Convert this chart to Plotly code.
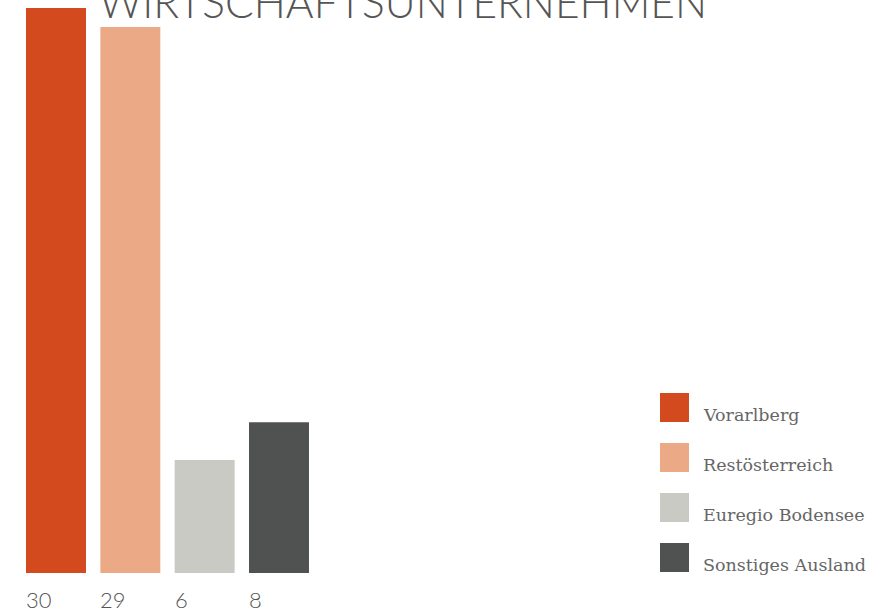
import plotly.graph_objects as go

categories = ["Vorarlberg", "Restösterreich", "Euregio Bodensee", "Sonstiges Ausland"]
values = [30, 29, 6, 8]
colors = ["#D24A1E", "#EBA986", "#C9CAC4", "#505251"]
title_text = "WIRTSCHAFTSUNTERNEHMEN"

W, H = 869, 613
bar_w = 0.807
xs = list(range(len(categories)))

fig = go.Figure()
fig.add_trace(go.Bar(x=xs, y=values, marker_color=colors, width=bar_w,
                     marker_line_width=0, showlegend=False, hoverinfo="skip"))

def px(x):
    return x / W

def py(y):
    return 1 - y / H

annotations = []
shapes = []
# value labels under bars
for i, v in enumerate(values):
    annotations.append(dict(x=i - bar_w / 2, y=0, xref="x", yref="y", text=str(v),
                            showarrow=False, xanchor="left", yanchor="top", yshift=-11,
                            xshift=-2,
                            font=dict(family="Lato", size=22, color="#555555", weight=300)))
# legend
for i, (name, c) in enumerate(zip(categories, colors)):
    top = 393 + 50 * i
    shapes.append(dict(type="rect", xref="paper", yref="paper",
                       x0=px(660), x1=px(689), y0=py(top + 29), y1=py(top),
                       fillcolor=c, line_width=0))
    annotations.append(dict(x=px(701), y=py(top + 22), xref="paper", yref="paper",
                            text=name, showarrow=False, xanchor="left", yanchor="middle",
                            font=dict(family="DejaVu Serif", size=17.5, color="#666666")))
# title
annotations.append(dict(x=px(97), y=py(1), xref="paper", yref="paper", text=title_text,
                        showarrow=False, xanchor="left", yanchor="middle",
                        font=dict(family="Lato", size=42.5, color="#555555", weight=300)))

fig.update_layout(
    width=W, height=H,
    margin=dict(l=0, r=0, t=0, b=0),
    paper_bgcolor="white", plot_bgcolor="white",
    xaxis=dict(domain=[0, 0.4], range=[-56 / 74.33, (0.4 * W - 56) / 74.33],
               visible=False, fixedrange=True),
    yaxis=dict(range=[-40 / 18.83, -40 / 18.83 + H / 18.83], visible=False, fixedrange=True),
    annotations=annotations, shapes=shapes,
)
fig.write_html("out.html", config={"displayModeBar": False},
               post_script="document.body.style.margin='0';")
